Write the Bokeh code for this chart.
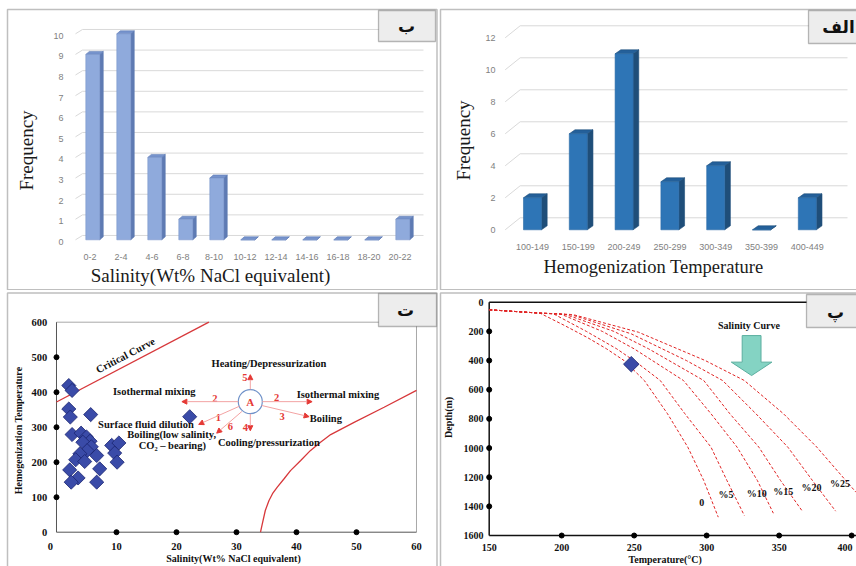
import numpy as np
from bokeh.plotting import figure
from bokeh.layouts import column, row
from bokeh.models import (Range1d, Label, BoxAnnotation, Arrow, NormalHead,
                          ColumnDataSource)
from bokeh.core.properties import value
from bokeh.embed import file_html
from bokeh.resources import INLINE

SERIF = "Liberation Serif"
SANS = "Liberation Sans"
ARAB = "DejaVu Sans"

# ---------------- data ----------------
sal_bins = ["0-2", "2-4", "4-6", "6-8", "8-10", "10-12", "12-14", "14-16",
            "16-18", "18-20", "20-22"]
sal_freq = [9, 10, 4, 1, 3, 0, 0, 0, 0, 0, 1]
sal_ticks = [0, 1, 2, 3, 4, 5, 6, 7, 8, 9, 10]

th_bins = ["100-149", "150-199", "200-249", "250-299", "300-349", "350-399",
           "400-449"]
th_freq = [2, 6, 11, 3, 4, 0, 2]
th_ticks = [0, 2, 4, 6, 8, 10, 12]

inc_salinity = [2.05, 2.6, 2.05, 2.3, 5.7, 22.2, 2.6, 4.1, 5.0, 5.6, 4.4, 5.8,
                5.1, 3.9, 3.2, 4.7, 6.7, 9.2, 10.4, 9.7, 10.1, 2.2, 3.6, 2.45,
                7.2, 6.7]
inc_th = [419, 405, 352, 329, 336, 330, 279, 283, 272, 260, 257, 244,
          233, 224, 207, 202, 219, 248, 255, 226, 200, 178, 155, 143,
          181, 143]
critical_sal = [0, 25.4]
critical_th = [372, 600]
halite_sal = [34.0, 34.3, 34.8, 35.4, 36.0, 36.8, 37.9, 39.0, 40.7, 42.3,
              44.0, 45.7, 49.6, 54.6, 60.0]
halite_th = [0, 24, 62, 90, 110, 129, 152, 176, 205, 233, 257, 279, 314,
             357, 405]
p3_xticks = [0, 10, 20, 30, 40, 50, 60]
p3_yticks = [0, 100, 200, 300, 400, 500, 600]

point_a = (32.3, 373)
arrow_x0 = [30.3, 34.3, 32.3, 32.3, 34.2, 30.5, 30.9]
arrow_y0 = [373, 373, 408, 338, 362, 360, 345]
arrow_x1 = [20.9, 42.6, 32.3, 32.3, 42.1, 23.7, 26.7]
arrow_y1 = [373, 373, 450, 290, 330, 308, 283]
arrow_num = ["2", "2", "5", "4", "3", "1", "6"]
num_x = [26.4, 36.7, 31.4, 31.5, 37.6, 27.0, 29.0]
num_y = [383, 386, 441, 298, 331, 327, 302]

note_text = ["Heating/Depressurization", "Isothermal mixing", "Isothermal mixing",
             "Boiling", "Surface fluid dilution", "Boiling(low salinity,",
             "CO\u2082 \u2013 bearing)", "Cooling/pressurization"]
note_x = [35.4, 16.3, 46.9, 44.9, 14.9, 19.2, 19.3, 35.4]
note_y = [481, 402, 393, 326, 307, 279, 248, 257]

curve_names = ["0", "%5", "%10", "%15", "%20", "%25"]
temp_0 = [150, 185, 202, 218, 231, 243, 257, 273, 287, 298, 308]
depth_0 = [52, 75, 160, 244, 320, 400, 537, 765, 994, 1223, 1474]
temp_5 = [150, 185, 194, 217, 238, 253, 268, 285, 303, 314, 326]
depth_5 = [52, 75, 78, 200, 320, 423, 537, 765, 994, 1223, 1463]
temp_10 = [150, 185, 199, 228, 250, 284, 303, 321, 335, 346]
depth_10 = [52, 75, 80, 200, 320, 537, 765, 994, 1223, 1447]
temp_15 = [150, 185, 202, 236, 260, 298, 316, 336, 351, 366]
depth_15 = [52, 75, 82, 200, 320, 537, 765, 994, 1223, 1433]
temp_20 = [150, 185, 206, 248, 286, 311, 334, 356, 373, 389]
depth_20 = [52, 75, 84, 217, 400, 537, 765, 994, 1223, 1433]
temp_25 = [150, 185, 209, 253, 299, 326, 353, 376, 396, 403]
depth_25 = [52, 75, 88, 206, 400, 537, 765, 994, 1223, 1303]
label_temp = [296.6, 313.4, 334.5, 352.9, 372.4, 392.0]
label_depth = [1371, 1321, 1310, 1296, 1273, 1246]
sample_temp = [248]
sample_depth = [425]
p4_xticks = [150, 200, 250, 300, 350, 400]
p4_yticks = [0, 200, 400, 600, 800, 1000, 1200, 1400, 1600]


# ---------------- helpers ----------------
def base_fig(W, H, xr, yr):
    p = figure(width=W, height=H, x_range=Range1d(*xr), y_range=Range1d(*yr),
               output_backend="svg", toolbar_location=None,
               x_axis_type=None, y_axis_type=None,
               min_border_left=0, min_border_right=0,
               min_border_top=0, min_border_bottom=0)
    p.title.visible = False
    p.outline_line_color = None
    p.background_fill_color = "white"
    p.border_fill_color = "white"
    return p


def txt(p, x, y, texts, size, font=SERIF, bold=False, color="#111111",
        align="center", baseline="middle", angle=0.0):
    p.text(x=x, y=y, text=texts, text_font=value(font),
           text_font_style=("bold" if bold else "normal"),
           text_font_size=size, text_color=color, text_align=align,
           text_baseline=baseline, angle=angle)


def outer_border(p, W, H, left, top, right=None, bottom=None):
    p.add_layout(BoxAnnotation(
        left=left, top=top,
        right=(W + 10 if right is None else right),
        bottom=(H + 10 if bottom is None else bottom),
        left_units="canvas", right_units="canvas",
        top_units="canvas", bottom_units="canvas",
        fill_color=None, line_color="#2a2a2a", line_width=1.5,
        level="overlay"))


def tag(p, H, box, text, cx, cy):
    l, t, r, b = box
    p.add_layout(BoxAnnotation(
        left=l, top=t, right=r, bottom=b,
        left_units="canvas", right_units="canvas",
        top_units="canvas", bottom_units="canvas",
        fill_color="#EDEDED", fill_alpha=1, line_color="#1a1a1a",
        line_width=1.3, level="overlay"))
    p.add_layout(Label(x=cx, y=H - cy, x_units="screen", y_units="screen",
                       text=text, text_font=ARAB, text_font_style="bold",
                       text_font_size="17px", text_align="center",
                       text_baseline="middle", text_color="#111111",
                       level="overlay"))


def bars3d(p, vals, off, w, dx, dy, front, side, topc, edge):
    v = np.array(vals, dtype=float)
    x = np.arange(len(v)) + off
    l = x - w / 2
    r = x + w / 2
    sxs = [[ri, ri + dx, ri + dx, ri] for ri in r]
    sys_ = [[0, dy, vi + dy, vi] for vi in v]
    txs = [[li, ri, ri + dx, li + dx] for li, ri in zip(l, r)]
    tys = [[vi, vi, vi + dy, vi + dy] for vi in v]
    p.patches(sxs, sys_, fill_color=side, line_color=side, line_width=0.6)
    p.patches(txs, tys, fill_color=topc, line_color=side, line_width=0.6)
    p.quad(left=l, right=r, bottom=0, top=v, fill_color=front,
           line_color=edge, line_width=0.6)


def grid3d(p, ticks, xf, x0, x1, gdy):
    t = np.array(ticks, dtype=float)
    p.segment(x0=[x0] * len(t), y0=t + gdy, x1=[x1] * len(t), y1=t + gdy,
              line_color="#D9D9D9", line_width=1)
    p.segment(x0=[xf] * len(t), y0=t, x1=[x0] * len(t), y1=t + gdy,
              line_color="#D9D9D9", line_width=1)


# ---------------- panel 1 : salinity histogram ----------------
W1, H1 = 438, 290
p1 = base_fig(W1, H1, (-2.887, 11.242), (-2.461, 11.617))
grid3d(p1, sal_ticks, -0.468, -0.242, 10.758, 0.21)
bars3d(p1, sal_freq, 0.09, 0.45, 0.113, 0.146,
       "#8FAADC", "#5E7BB3", "#7693CC", "#7A95CA")
txt(p1, [-0.855] * len(sal_ticks), [t - 0.1 for t in sal_ticks],
    [str(t) for t in sal_ticks], "9px", font=SANS, color="#7F7F7F", align="right")
txt(p1, list(range(len(sal_bins))), [-0.859] * len(sal_bins), sal_bins, "9px",
    font=SANS, color="#7F7F7F")
txt(p1, [-2.055], [4.335], ["Frequency"], "19px", color="#1a1a1a",
    angle=np.pi / 2)
txt(p1, [3.887], [-1.733], ["Salinity(Wt% NaCl equivalent)"], "19px",
    color="#1a1a1a")
outer_border(p1, W1, H1, 7, 9, 436.5, 289.2)
tag(p1, H1, (378, 10, 435, 41), "\u0628", 406, 25)

# ---------------- panel 2 : homogenization temperature histogram -------
W2, H2 = 418, 290
p2 = base_fig(W2, H2, (-2.052, 7.074), (-3.794, 14.331))
grid3d(p2, th_ticks, -0.596, -0.269, 6.878, 0.75)
bars3d(p2, th_freq, 0.0, 0.393, 0.124, 0.25,
       "#2E75B6", "#1F4E79", "#24609A", "#2A6AA6")
txt(p2, [-0.808] * len(th_ticks), th_ticks, [str(t) for t in th_ticks], "9px",
    font=SANS, color="#7F7F7F", align="right")
txt(p2, list(range(len(th_bins))), [-1.106] * len(th_bins), th_bins, "9px",
    font=SANS, color="#7F7F7F")
txt(p2, [-1.496], [5.581], ["Frequency"], "19px", color="#1a1a1a",
    angle=np.pi / 2)
txt(p2, [2.642], [-2.338], ["Hemogenization Temperature"], "18.5px",
    color="#1a1a1a")
outer_border(p2, W2, H2, 2, 9, None, 289.2)
tag(p2, H2, (370, 10, W2 + 10, 43), "\u0627\u0644\u0641", 400, 26)

# ---------------- panel 3 : Th vs salinity ----------------
W3, H3 = 438, 276
p3 = base_fig(W3, H3, (-9.333, 63.667), (-98.0, 690.57))
x_lo, x_hi = p3_xticks[0], p3_xticks[-1]
y_lo, y_hi = p3_yticks[0], p3_yticks[-1]
p3.segment(x0=[x_lo, x_hi], y0=[y_hi, y_lo], x1=[x_hi, x_hi], y1=[y_hi, y_hi],
           line_color="#A8A8A8", line_width=1)
p3.segment(x0=[x_lo, x_lo], y0=[y_lo, y_lo], x1=[x_lo, x_hi], y1=[y_hi, y_lo],
           line_color="#555555", line_width=1)
p3.line(critical_sal, critical_th, line_color="#D7383B", line_width=1.3)
p3.line(halite_sal, halite_th, line_color="#D7383B", line_width=1.3)
txt(p3, [11.5], [505], ["Critical Curve"], "10.5px", bold=True, angle=0.482)
p3.scatter(inc_salinity, inc_th, marker="square", angle=np.pi / 4, size=10,
           fill_color="#3A4BA8", line_color="#1B2570", line_width=0.8)
asrc = ColumnDataSource(dict(x0=arrow_x0, y0=arrow_y0, x1=arrow_x1, y1=arrow_y1))
p3.add_layout(Arrow(end=NormalHead(size=5, fill_color="#E53935",
                                   line_color="#E53935"),
                    x_start="x0", y_start="y0", x_end="x1", y_end="y1",
                    source=asrc, line_color="#F3A3A3", line_width=1))
p3.scatter([point_a[0]], [point_a[1]], marker="circle", size=24,
           fill_color="white", line_color="#7092C9", line_width=1.2)
txt(p3, [point_a[0]], [point_a[1]], ["A"], "11px", bold=True, color="#E53935")
txt(p3, num_x, num_y, arrow_num, "10.5px", bold=True, color="#E53935")
txt(p3, note_x, note_y, note_text, "10.5px", bold=True)
p3.scatter(p3_xticks[1:-1], [y_lo] * (len(p3_xticks) - 2), size=5,
           color="#000000")
p3.scatter([x_lo] * (len(p3_yticks) - 2), p3_yticks[1:-1], size=5,
           color="#000000")
txt(p3, [-1.55] * len(p3_yticks), p3_yticks, [str(t) for t in p3_yticks],
    "10.5px", bold=True, align="right")
txt(p3, [x_lo - 1.0] + p3_xticks[1:], [-40.0] * len(p3_xticks),
    [str(t) for t in p3_xticks], "10.5px", bold=True)
txt(p3, [-6.283], [290.6], ["Hemogenization Temperature"], "10px", bold=True,
    angle=np.pi / 2)
txt(p3, [29.5], [-76.0], ["Salinity(Wt% NaCl equivalent)"], "10px", bold=True)
outer_border(p3, W3, H3, 7, 2.5, 436.5, None)
tag(p3, H3, (378, 3, 436, 36), "\u062a", 405, 19)

# ---------------- panel 4 : depth vs temperature ----------------
W4, H4 = 418, 276
p4 = base_fig(W4, H4, (115.03, 403.36), (1812.4, -80.2))
t_lo = p4_xticks[0]
d_lo, d_hi = p4_yticks[0], p4_yticks[-1]
p4.segment(x0=[t_lo, t_lo, t_lo], y0=[d_lo, d_hi, d_lo],
           x1=[t_lo, 403.36, 403.36], y1=[d_hi, d_hi, d_lo],
           line_color="#111111", line_width=1.5)
for tt, dd in ((temp_0, depth_0), (temp_5, depth_5), (temp_10, depth_10),
               (temp_15, depth_15), (temp_20, depth_20), (temp_25, depth_25)):
    p4.line(tt, dd, line_color="#E02424", line_width=1, line_dash="3 2")
txt(p4, label_temp, label_depth, curve_names, "10px", bold=True)
p4.scatter(sample_temp, sample_depth, marker="square", angle=np.pi / 4, size=11,
           fill_color="#3A4BA8", line_color="#1B2570", line_width=0.8)
p4.scatter(p4_xticks[1:], [d_hi] * (len(p4_xticks) - 1), size=5, color="#000000")
p4.scatter([t_lo] * (len(p4_yticks) - 2), p4_yticks[1:-1], size=5,
           color="#000000")
txt(p4, [146.1] * len(p4_yticks), p4_yticks, [str(t) for t in p4_yticks],
    "10px", bold=True, align="right")
# last tick label nudged inward so that it is not cut at the picture edge
p4_xlabel_pos = p4_xticks[:-1] + [p4_xticks[-1] - 4.5]
txt(p4, p4_xlabel_pos, [1685] * len(p4_xticks), [str(t) for t in p4_xticks],
    "10px", bold=True)
# "Salinity Curve" block arrow (decorative annotation)
ax_c, ay_top = 331.0, 229
shaft_half, head_half, shaft_len, head_len = 6.5, 14.0, 182, 92
p4.patch([ax_c - shaft_half, ax_c + shaft_half, ax_c + shaft_half, ax_c + head_half,
          ax_c, ax_c - head_half, ax_c - shaft_half],
         [ay_top, ay_top, ay_top + shaft_len, ay_top + shaft_len,
          ay_top + shaft_len + head_len, ay_top + shaft_len, ay_top + shaft_len],
         fill_color="#84D3C3", line_color="#5BAE9F", line_width=1)
txt(p4, [329.2], [160], ["Salinity Curve"], "10px", bold=True)
txt(p4, [121.9], [790], ["Depth(m)"], "10px", bold=True, angle=np.pi / 2)
txt(p4, [271.4], [1766], ["Temperature(\u00b0C)"], "10px", bold=True)
outer_border(p4, W4, H4, 2, 2.5, None, None)
tag(p4, H4, (368, 4, W4 + 10, 37), "\u067e", 397, 21)

layout = column(row(p1, p2), row(p3, p4))
open("out.html", "w").write(file_html(layout, INLINE))
